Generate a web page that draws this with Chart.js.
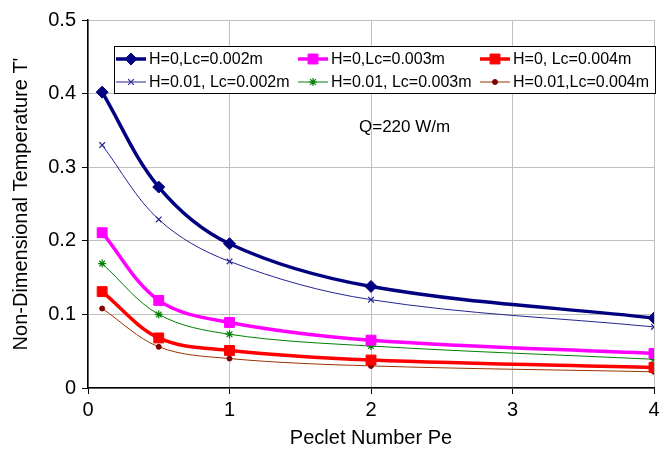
<!DOCTYPE html>
<html>
<head>
<meta charset="utf-8">
<script src="https://cdn.jsdelivr.net/npm/chart.js@4.4.1/dist/chart.umd.min.js"></script>
<style>
  html, body { margin: 0; padding: 0; background: #fff; }
  #wrap { width: 662px; height: 454px; }
</style>
</head>
<body>
<div id="wrap"><canvas id="myChart"></canvas></div>
<script>
// Peclet number (x) and series values
var peclet = [0.1, 0.5, 1, 2, 4];
var h0Lc002 = [0.402, 0.273, 0.196, 0.138, 0.095];
var h0Lc003 = [0.211, 0.119, 0.089, 0.065, 0.047];
var h0Lc004 = [0.131, 0.068, 0.051, 0.038, 0.028];
var h001Lc002 = [0.330, 0.229, 0.172, 0.120, 0.083];
var h001Lc003 = [0.169, 0.100, 0.073, 0.057, 0.039];
var h001Lc004 = [0.108, 0.056, 0.040, 0.030, 0.022];

var seriesNames = ['H=0,Lc=0.002m', 'H=0,Lc=0.003m', 'H=0, Lc=0.004m',
                   'H=0.01, Lc=0.002m', 'H=0.01, Lc=0.003m', 'H=0.01,Lc=0.004m'];
var xTicks = [0, 1, 2, 3, 4];
var yTicks = [0, 0.1, 0.2, 0.3, 0.4, 0.5];
var noteText = 'Q=220 W/m';

var FONT = "'Liberation Sans', Arial, sans-serif";

function pts(vals) {
    return peclet.map(function (x, i) { return { x: x, y: vals[i] }; });
}

function ds(label, vals, color, width, style, radius, markColor) {
    return {
        label: label,
        data: pts(vals),
        borderColor: color,
        borderWidth: width,
        backgroundColor: markColor || color,
        pointBorderColor: markColor || color,
        pointBackgroundColor: markColor || color,
        pointStyle: style,
        pointRadius: radius,
        pointBorderWidth: style === 'crossRot' || style === 'star' ? 1.2 : 1,
        tension: 0.35,
        fill: false
    };
}

var datasets = [
    ds(seriesNames[0], h0Lc002, '#000080', 3.5, 'rectRot', 6),
    ds(seriesNames[1], h0Lc003, '#ff00ff', 3.5, 'rect', 7),
    ds(seriesNames[2], h0Lc004, '#ff0000', 3.5, 'rect', 7),
    ds(seriesNames[3], h001Lc002, '#24248f', 1, 'crossRot', 4),
    ds(seriesNames[4], h001Lc003, '#008000', 1, 'star', 4),
    ds(seriesNames[5], h001Lc004, '#993300', 1, 'circle', 2.5, '#800000')
];

// legend box drawn inside the plot, 3 columns x 2 rows like the original
var boxLegend = {
    id: 'boxLegend',
    afterDraw: function (chart) {
        var c = chart.ctx;
        var bx = 114, by = 46, bw = 541, bh = 47;
        var colX = [116, 298, 480];
        var rowY = [59, 82];
        c.save();
        c.fillStyle = '#fff';
        c.fillRect(bx, by, bw, bh);
        c.strokeStyle = '#000';
        c.lineWidth = 1;
        c.strokeRect(bx + 0.5, by + 0.5, bw, bh);
        chart.data.datasets.forEach(function (d, i) {
            var x = colX[i % 3];
            var y = rowY[Math.floor(i / 3)];
            c.strokeStyle = d.borderColor;
            c.lineWidth = d.borderWidth;
            c.beginPath();
            c.moveTo(x, y);
            c.lineTo(x + 30, y);
            c.stroke();
            c.fillStyle = d.pointBackgroundColor;
            c.strokeStyle = d.pointBorderColor;
            c.lineWidth = d.pointBorderWidth;
            Chart.helpers.drawPoint(c, {
                pointStyle: d.pointStyle,
                radius: d.pointRadius,
                borderWidth: d.pointBorderWidth,
                rotation: 0
            }, x + 15, y);
            c.fillStyle = '#000';
            c.font = '16px ' + FONT;
            c.textBaseline = 'middle';
            c.textAlign = 'left';
            c.fillText(d.label, x + 33, y + 1);
        });
        c.font = '17px ' + FONT;
        c.fillStyle = '#000';
        c.textBaseline = 'middle';
        c.fillText(noteText, 359, 127);
        c.restore();
    }
};

var ctx = document.getElementById('myChart').getContext('2d');
var chart = new Chart(ctx, {
    type: 'line',
    data: { datasets: datasets },
    options: {
        responsive: true,
        maintainAspectRatio: false,
        animation: false,
        layout: { padding: { left: 0, right: 0, top: 20, bottom: 0 } },
        plugins: {
            legend: { display: false },
            tooltip: { enabled: false }
        },
        scales: {
            x: {
                type: 'linear',
                min: xTicks[0],
                max: xTicks[xTicks.length - 1],
                afterBuildTicks: function (s) { s.ticks = xTicks.map(function (v) { return { value: v }; }); },
                afterFit: function (s) { s.height = 66; s.paddingRight = 2; s.paddingLeft = 0; },
                ticks: { color: '#000', font: { family: FONT, size: 20 }, padding: 4, maxRotation: 0 },
                grid: { color: '#c0c0c0', tickColor: '#000', tickLength: 6 },
                border: { color: '#000', width: 1.5 },
                title: { display: true, text: 'Peclet Number Pe', color: '#000', font: { family: FONT, size: 20 }, padding: { top: 3 } }
            },
            y: {
                min: yTicks[0],
                max: yTicks[yTicks.length - 1],
                afterBuildTicks: function (s) { s.ticks = yTicks.map(function (v) { return { value: v }; }); },
                afterFit: function (s) { s.width = 88; },
                ticks: {
                    color: '#000', font: { family: FONT, size: 20 }, padding: 6,
                    callback: function (v) { return v === 0 ? '0' : v.toFixed(1); }
                },
                grid: { color: '#c0c0c0', tickColor: '#000', tickLength: 6 },
                border: { color: '#000', width: 1.5 },
                title: { display: true, text: "Non-Dimensional Temperature T'", color: '#000', font: { family: FONT, size: 20 }, padding: { top: 9, bottom: 0 } }
            }
        }
    },
    plugins: [boxLegend]
});
</script>
</body>
</html>
